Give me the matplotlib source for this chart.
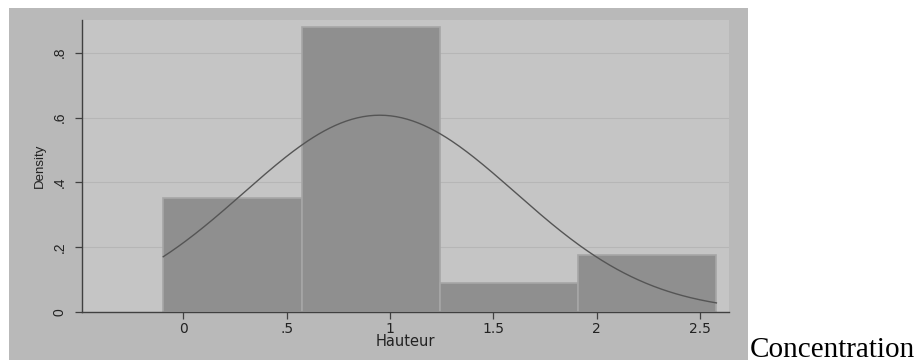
import numpy as np
import matplotlib

matplotlib.use("Agg")
import matplotlib.pyplot as plt
from matplotlib.patches import Rectangle

# histogram of Hauteur (density scale), 4 bins
bin_edges = [-0.097, 0.572, 1.241, 1.910, 2.579]
densities = [0.352, 0.879, 0.088, 0.176]

# normal density overlay
curve_mean = 0.95
curve_sd = 0.657

x_ticks = [0, 0.5, 1, 1.5, 2, 2.5]
x_tick_labels = ["0", ".5", "1", "1.5", "2", "2.5"]
y_ticks = [0, 0.2, 0.4, 0.6, 0.8]
y_tick_labels = ["0", ".2", ".4", ".6", ".8"]

plt.rcParams["font.family"] = ["Liberation Sans", "DejaVu Sans"]

fig = plt.figure(figsize=(9.17, 3.62), dpi=100)
fig.patch.set_facecolor("white")

# outer grey graph region
fig.patches.append(Rectangle((9 / 917, 2 / 362), 739 / 917, 352 / 362,
                             transform=fig.transFigure, facecolor="#b9b9b9",
                             edgecolor="none", zorder=-5))

ax = fig.add_axes([82 / 917, 50 / 362, 647 / 917, 292 / 362])
ax.set_zorder(2)
ax.set_facecolor("#c5c5c5")

widths = np.diff(bin_edges)
ax.bar(bin_edges[:-1], densities, width=widths, align="edge",
       color="#8f8f8f", edgecolor="#a6a6a6", linewidth=1.2, zorder=2)

xs = np.linspace(bin_edges[0], bin_edges[-1], 300)
ys = np.exp(-0.5 * ((xs - curve_mean) / curve_sd) ** 2) / (curve_sd * np.sqrt(2 * np.pi))
ax.plot(xs, ys, color="#555555", linewidth=1.0, zorder=3)

ax.set_xlim(-0.49, 2.64)
ax.set_ylim(0, 0.901)

# horizontal texts look stretched in the original, so use the wider DejaVu face
ax.set_xticks(x_ticks)
ax.set_xticklabels(x_tick_labels, fontsize=10, color="#222222", family="DejaVu Sans")
ax.set_yticks(y_ticks)
ax.set_yticklabels(y_tick_labels, fontsize=10, color="#222222", rotation=90, va="center")

ax.yaxis.grid(True, color="#b6b6b6", linewidth=0.8, zorder=1)
ax.set_axisbelow(True)

ax.tick_params(axis="both", direction="out", length=5, width=0.9, color="#404040")
ax.tick_params(axis="y", pad=6)
ax.tick_params(axis="x", pad=2)

for side in ["top", "right"]:
    ax.spines[side].set_visible(False)
for side in ["left", "bottom"]:
    ax.spines[side].set_color("#404040")
    ax.spines[side].set_linewidth(1.0)

ax.set_xlabel("Hauteur", fontsize=10.5, color="#222222", labelpad=-1, family="DejaVu Sans")
ax.set_ylabel("Density", fontsize=9.5, color="#222222", labelpad=5)

fig.text(750 / 917, 5 / 362, "Concentration", fontsize=21,
         family=["Liberation Serif", "DejaVu Serif"], color="black",
         ha="left", va="baseline")

fig.savefig("out.png", dpi=100)
